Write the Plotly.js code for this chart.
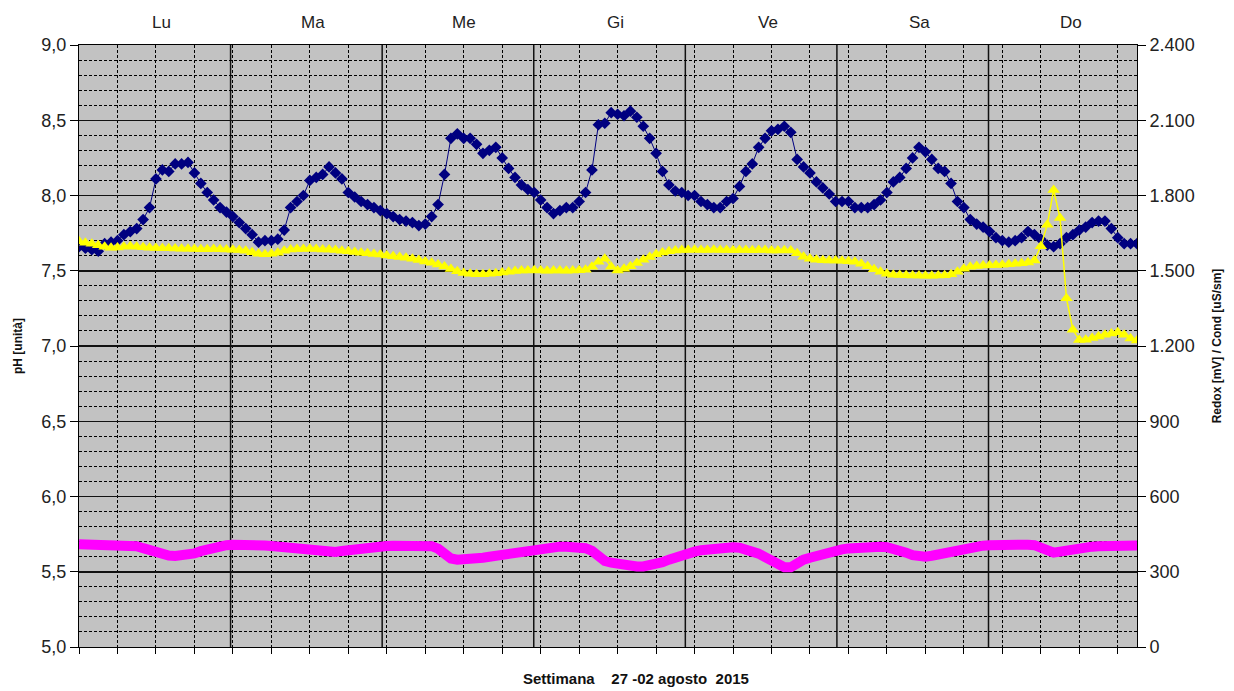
<!DOCTYPE html>
<html>
<head>
<meta charset="utf-8">
<script src="https://cdn.plot.ly/plotly-3.0.1.min.js"></script>
<style>html,body{margin:0;padding:0;background:#fff;}#chart{width:1234px;height:691px;}</style>
</head>
<body>
<div id="chart"></div>
<script>
// Day labels (top axis)
const dayLabels = ["Lu", "Ma", "Me", "Gi", "Ve", "Sa", "Do"];

// pH [unità] – hourly readings (left axis)
const ph = [
7.66,7.65,7.64,7.63,7.68,7.69,7.70,7.74,7.76,7.78,
7.84,7.92,8.11,8.17,8.16,8.21,8.21,8.22,8.15,8.08,
8.02,7.97,7.92,7.89,7.86,7.82,7.78,7.74,7.69,7.70,
7.70,7.71,7.77,7.92,7.96,8.00,8.10,8.12,8.14,8.19,
8.15,8.11,8.02,7.99,7.96,7.94,7.92,7.90,7.88,7.86,
7.84,7.83,7.82,7.80,7.81,7.86,7.94,8.14,8.38,8.41,
8.38,8.38,8.34,8.28,8.30,8.32,8.25,8.18,8.12,8.07,
8.04,8.02,7.97,7.92,7.88,7.90,7.92,7.92,7.96,8.02,
8.17,8.47,8.48,
8.55,8.54,8.53,8.56,8.52,8.46,8.38,8.28,8.16,8.07,
8.03,8.02,8.00,8.00,7.96,7.94,7.92,7.92,7.96,7.98,
8.06,8.16,8.21,8.32,8.38,8.43,8.44,8.46,8.42,8.24,
8.19,8.15,8.09,8.05,8.01,7.96,7.96,7.96,7.92,7.92,7.92,
7.94,7.97,8.02,8.09,8.12,8.18,8.25,8.32,8.29,8.24,
8.18,8.16,8.08,7.96,7.92,7.84,7.81,7.79,7.76,7.72,
7.70,7.69,7.70,7.72,7.76,7.74,7.71,7.67,7.66,7.68,
7.72,7.74,7.77,7.79,7.82,7.83,7.83,7.78,7.72,7.68,
7.68,7.68
];

// Redox [mV] (right axis)
const redox = [
1618,1612,1608,1602,1596,1592,1593,1596,1598,1596,
1594,1592,1591,1590,1590,1589,1588,1588,1587,1586,
1586,1587,1586,1585,1584,1583,1580,1574,1568,1566,
1568,1572,1580,1585,1587,1587,1588,1587,1585,1585,
1583,1580,1578,1575,1572,1570,1567,1565,1561,1558,
1555,1552,1548,1543,1537,1532,1525,1517,1507,1498,
1491,1488,1486,1486,1488,1490,1493,1496,1499,1501,
1501,1502,1501,1500,1501,1501,1500,1501,1502,1504,
1516,1536,1548,1516,1501,1508,1518,1531,1544,1555,
1566,1573,1578,1581,1583,1583,1584,1583,1583,1584,
1583,1583,1582,1583,1583,1582,1583,1583,1581,1581,
1582,1581,1570,1556,1548,1544,1542,1541,1541,1540,
1538,1536,1528,1518,1506,1496,1488,1484,1483,1482,
1481,1481,1480,1480,1481,1482,1486,1496,1508,1516,
1519,1521,1522,1523,1524,1526,1528,1530,1533,1541,
1598,1683,1822,1710,1390,1265,1224,1225,1232,1238,
1245,1250,1255,1245,1230,1222
];

// Cond [uS/sm] (right axis)
const cond = [
410,410,409,409,408,408,407,406,405,402,
394,386,376,369,365,363,364,367,373,382,
390,397,402,406,408,409,409,408,407,405,
403,400,397,393,390,386,382,379,377,377,
379,383,387,391,395,398,400,402,403,404,
404,405,405,405,404,402,392,372,353,348,
348,350,353,356,360,364,369,374,379,384,
389,393,396,398,399,400,400,399,398,394,
383,363,343,336,330,326,323,321,321,324,
330,338,348,358,366,373,380,386,390,394,
397,398,398,396,390,382,372,358,343,326,
318,318,338,348,356,364,371,378,384,389,
393,396,398,399,400,400,398,394,386,376,
366,360,360,364,370,376,382,388,393,397,
401,404,406,408,409,409,409,408,408,406,
393,378,376,380,386,391,395,398,400,402,
403,404,405,406,406,405
];

const idx = ph.map((_, i) => i);
const lastIdx = ph.length - 1;
const dayLen = 23.64; // readings per displayed day band

// minor horizontal grid every 0.1 except where the solid 0.5 lines are
const minorVals = [];
for (let k = 0; k <= 40; k++) { if (k % 5 !== 0) minorVals.push(5 + k / 10); }

const traces = [
  {
    x: idx, y: ph, type: "scatter", mode: "lines+markers", name: "pH",
    line: {color: "#000080", width: 1},
    marker: {symbol: "diamond", size: 9, color: "#000080"}
  },
  {
    x: idx, y: cond, yaxis: "y2", type: "scatter", mode: "lines", name: "Cond",
    line: {color: "#ff00ff", width: 10}
  },
  {
    x: idx, y: redox, yaxis: "y2", type: "scatter", mode: "lines+markers", name: "Redox",
    line: {color: "#ffff00", width: 1.5},
    marker: {symbol: "triangle-up", size: 11, color: "#ffff00"}
  }
];

const shapes = [];
for (let k = 1; k < dayLabels.length; k++) {
  shapes.push({type: "line", xref: "x", yref: "paper", x0: k * dayLen, x1: k * dayLen, y0: 0, y1: 1,
    line: {color: "#111", width: 1.5}, layer: "between"});
}
const annotations = dayLabels.map((d, k) => ({
  text: d, xref: "x", yref: "paper", x: (k + 0.5) * dayLen + 1, y: 1.038,
  showarrow: false, xanchor: "center", yanchor: "middle",
  font: {size: 17, color: "#222"}
}));
annotations.push({
  text: "<b>Settimana\u00a0\u00a0\u00a0\u00a027 -02 agosto\u00a0\u00a02015</b>",
  xref: "paper", yref: "paper", x: 0.526, y: -0.052, showarrow: false,
  xanchor: "center", yanchor: "middle", font: {size: 15, color: "#111"}
});

const layout = {
  width: 1234, height: 691,
  margin: {l: 79, r: 97, t: 45, b: 44},
  paper_bgcolor: "#ffffff", plot_bgcolor: "#c2c2c2",
  separators: ",.",
  showlegend: false,
  font: {family: "Liberation Sans, Arial, sans-serif", color: "#222"},
  xaxis: {
    range: [0, lastIdx], tickmode: "linear", tick0: 0, dtick: 6,
    showticklabels: false, ticks: "outside", ticklen: 6, tickcolor: "#000",
    showgrid: true, gridcolor: "#000", griddash: "3px,2px", gridwidth: 1,
    zeroline: false, showline: true, linecolor: "#000", linewidth: 1, mirror: true
  },
  yaxis: {
    range: [5, 9], tickmode: "linear", tick0: 5, dtick: 0.5, tickformat: ".1f",
    ticks: "outside", ticklen: 8, tickcolor: "#000",
    showgrid: true, gridcolor: "#111", gridwidth: 1.5,
    minor: {tickmode: "array", tickvals: minorVals, showgrid: true, gridcolor: "#000", griddash: "3px,2px", gridwidth: 1, ticks: ""},
    zeroline: false, showline: true, linecolor: "#000", linewidth: 1,
    tickfont: {size: 18, color: "#222"},
    title: {text: "<b>pH [unità]</b>", font: {size: 12, color: "#111"}, standoff: 16}
  },
  yaxis2: {
    range: [0, 2400], tickmode: "linear", tick0: 0, dtick: 300, tickformat: ",d",
    overlaying: "y", side: "right",
    ticks: "outside", ticklen: 8, tickcolor: "#000",
    showgrid: false, zeroline: false, showline: true, linecolor: "#000", linewidth: 1,
    tickfont: {size: 18, color: "#222"},
    title: {text: "<b>Redox [mV] / Cond [uS/sm]</b>", font: {size: 12, color: "#111"}, standoff: 18}
  },
  shapes: shapes,
  annotations: annotations
};

Plotly.newPlot("chart", traces, layout, {displayModeBar: false, staticPlot: true});
</script>
</body>
</html>
